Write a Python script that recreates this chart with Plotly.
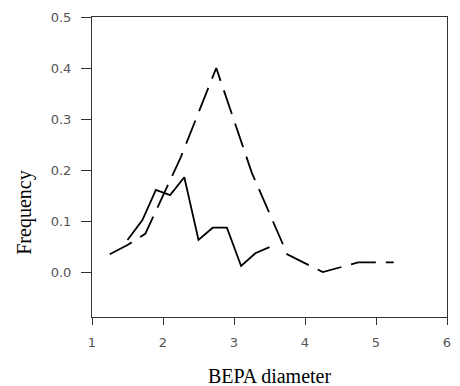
import plotly.graph_objects as go

# Solid series
solid_x = [1.5, 1.71, 1.9, 2.1, 2.3, 2.5, 2.7, 2.9, 3.1, 3.3, 3.5]
solid_y = [0.063, 0.102, 0.161, 0.151, 0.186, 0.063, 0.087, 0.087, 0.012, 0.037, 0.049]

# Dashed series
dash_x = [1.25, 1.5, 1.75, 2.0, 2.25, 2.75, 3.25, 3.75, 4.0, 4.25, 4.75, 5.25]
dash_y = [0.035, 0.053, 0.075, 0.15, 0.225, 0.40, 0.195, 0.035, 0.018, 0.0, 0.019, 0.019]

x_ticks = [1, 2, 3, 4, 5, 6]
y_ticks = [0.0, 0.1, 0.2, 0.3, 0.4, 0.5]
y_tick_labels = ["0.0", "0.1", "0.2", "0.3", "0.4", "0.5"]

L, R, T, B = 92, 9, 17, 69
W, H = 460, 386
pw = W - L - R
ph = H - T - B

fig = go.Figure()
fig.add_trace(go.Scatter(x=dash_x, y=dash_y, mode="lines",
                         line=dict(color="black", width=1.8, dash="25px,10px"),
                         showlegend=False))
fig.add_trace(go.Scatter(x=solid_x, y=solid_y, mode="lines",
                         line=dict(color="black", width=1.8),
                         showlegend=False))

tick_font = dict(family="DejaVu Sans", size=13, color="#555")
title_font = dict(family="Liberation Serif", size=20, color="black")
fig.update_layout(
    width=W, height=H,
    margin=dict(l=L, r=R, t=T, b=B),
    paper_bgcolor="white", plot_bgcolor="white",
    xaxis=dict(range=[1, 6], tickvals=x_ticks, showgrid=False, zeroline=False,
               showline=True, linecolor="#333", linewidth=1, mirror=True,
               ticks="outside", ticklen=7, tickcolor="#333", tickfont=tick_font,
               ticklabelstandoff=6),
    yaxis=dict(range=[-0.088, 0.5], tickvals=y_ticks, ticktext=y_tick_labels,
               showgrid=False, zeroline=False,
               showline=True, linecolor="#333", linewidth=1, mirror=True,
               ticks="outside", ticklen=10, tickcolor="#333", tickfont=tick_font,
               ticklabelstandoff=7),
    annotations=[
        dict(text="BEPA diameter", showarrow=False, xref="paper", yref="paper",
             x=(271 - L) / pw, y=(H - B - 376) / ph,
             xanchor="center", yanchor="middle", font=title_font),
        dict(text="Frequency", showarrow=False, textangle=-90, xref="paper", yref="paper",
             x=(23 - L) / pw, y=(H - B - 213) / ph,
             xanchor="center", yanchor="middle", font=title_font),
    ],
)
fig.write_html("out.html")
